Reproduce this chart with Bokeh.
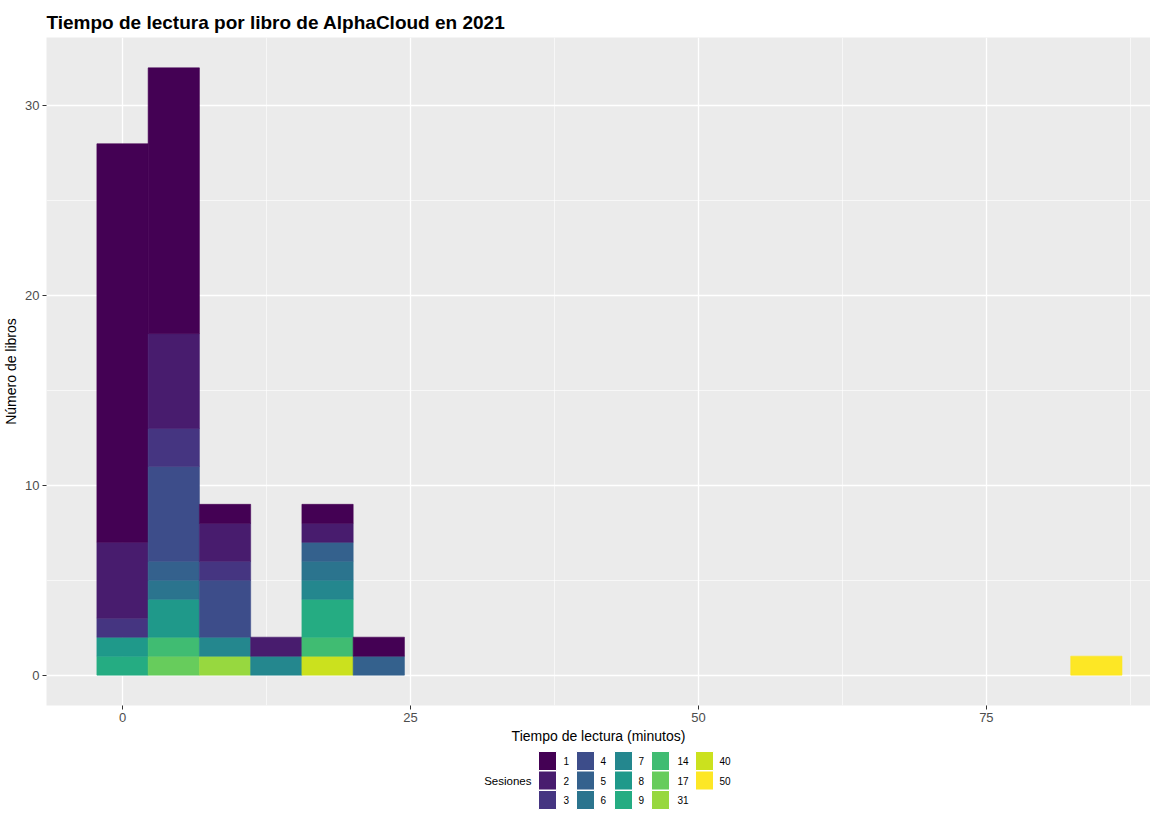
from bokeh.plotting import figure
from bokeh.models import Range1d, FixedTicker, ColumnDataSource
from bokeh.layouts import column
from bokeh.core.properties import value
from bokeh.embed import file_html
from bokeh.resources import INLINE

# ---------------- data ----------------
title_text = "Tiempo de lectura por libro de AlphaCloud en 2021"
x_label = "Tiempo de lectura (minutos)"
y_label = "Número de libros"
legend_title = "Sesiones"

bin_width = 4.45
bin_center = [0.0, 4.45, 8.9, 13.35, 17.8, 22.25, 84.55]

sesiones = ["1", "2", "3", "4", "5", "6", "7", "8", "9", "14", "17", "31", "40", "50"]
counts = {
    "1":  [21, 14, 1, 0, 1, 1, 0],
    "2":  [4, 5, 2, 1, 1, 0, 0],
    "3":  [1, 2, 1, 0, 0, 0, 0],
    "4":  [0, 5, 3, 0, 0, 0, 0],
    "5":  [0, 1, 0, 0, 1, 1, 0],
    "6":  [0, 1, 0, 0, 1, 0, 0],
    "7":  [0, 0, 1, 1, 1, 0, 0],
    "8":  [1, 2, 0, 0, 0, 0, 0],
    "9":  [1, 0, 0, 0, 2, 0, 0],
    "14": [0, 1, 0, 0, 1, 0, 0],
    "17": [0, 1, 0, 0, 0, 0, 0],
    "31": [0, 0, 1, 0, 0, 0, 0],
    "40": [0, 0, 0, 0, 1, 0, 0],
    "50": [0, 0, 0, 0, 0, 0, 1],
}

x_ticks = [0, 25, 50, 75]
x_minor = [12.5, 37.5, 62.5, 87.5]
y_ticks = [0, 10, 20, 30]
y_minor = [5, 15, 25]

palette = ["#440154", "#481C6E", "#453581", "#3D4D8A", "#34618D", "#2B748E",
           "#24878E", "#1F998A", "#25AC82", "#40BC72", "#67CC5C", "#97D83F",
           "#CBE11E", "#FDE725"]
color_of = dict(zip(sesiones, palette))

FONT = "Liberation Sans"
LEFT = 44
FRAME_W = 1104

# ---------------- main plot ----------------
p = figure(frame_width=FRAME_W, frame_height=668, output_backend="svg",
           toolbar_location=None,
           x_range=Range1d(-6.6, 89.25), y_range=Range1d(-1.6, 33.6),
           min_border_left=LEFT, min_border_right=0, min_border_top=37,
           min_border_bottom=36)
p.background_fill_color = "#EBEBEB"
p.border_fill_color = "white"
p.outline_line_color = None

# stacked histogram segments (level "1" on top, highest level at the bottom)
seg = {"x": [], "bottom": [], "top": [], "color": []}
for b, xc in enumerate(bin_center):
    base = 0
    for s in reversed(sesiones):
        n = counts[s][b]
        if n > 0:
            seg["x"].append(xc)
            seg["bottom"].append(base)
            seg["top"].append(base + n)
            seg["color"].append(color_of[s])
            base += n
src = ColumnDataSource(seg)
p.vbar(x="x", bottom="bottom", top="top", width=bin_width, fill_color="color",
       line_color="color", line_width=0.6, source=src)

p.xaxis.ticker = FixedTicker(ticks=x_ticks, minor_ticks=x_minor)
p.yaxis.ticker = FixedTicker(ticks=y_ticks, minor_ticks=y_minor)

for g in (p.xgrid, p.ygrid):
    g.grid_line_color = "white"
    g.grid_line_width = 1.3
    g.minor_grid_line_color = "white"
    g.minor_grid_line_width = 0.6

for ax in (p.xaxis, p.yaxis):
    ax.axis_line_color = None
    ax.major_tick_line_color = "#333333"
    ax.major_tick_in = 0
    ax.major_tick_out = 4
    ax.minor_tick_line_color = None
    ax.major_label_text_color = "#4D4D4D"
    ax.major_label_text_font = FONT
    ax.major_label_text_font_size = "13px"
    ax.major_label_standoff = 3
    ax.axis_label_text_font = FONT
    ax.axis_label_text_font_size = "14px"
    ax.axis_label_text_font_style = "normal"
    ax.axis_label_text_color = "black"
    ax.axis_label_standoff = 3

p.xaxis.axis_label = x_label
p.yaxis.axis_label = y_label

p.title.text = title_text
p.title.text_font = FONT
p.title.text_font_size = "19px"
p.title.text_font_style = "bold"
p.title.text_color = "black"
p.title.align = "left"

# ---------------- legend (separate strip, same frame alignment) ----------------
LEG_H = 64
leg = figure(frame_width=FRAME_W, frame_height=LEG_H, output_backend="svg",
             toolbar_location=None,
             x_range=Range1d(LEFT, LEFT + FRAME_W), y_range=Range1d(LEG_H, 0),
             x_axis_location=None, y_axis_location=None,
             min_border_left=LEFT, min_border_right=0, min_border_top=0,
             min_border_bottom=0)
leg.title.visible = False
leg.outline_line_color = None
leg.xgrid.visible = False
leg.ygrid.visible = False
leg.background_fill_color = "white"
leg.border_fill_color = "white"

col_key_left = [536, 574, 612, 649, 693]
col_label_x = [561, 598, 636, 675, 717]
row_top = [5, 24.5, 44]
key_w, key_h = 18, 19

kx, ky, kc, lx, ly, lt = [], [], [], [], [], []
for i, s in enumerate(sesiones):
    c, r = divmod(i, 3)
    kx.append(col_key_left[c] + key_w / 2)
    ky.append(row_top[r] + key_h / 2)
    kc.append(color_of[s])
    lx.append(col_label_x[c])
    ly.append(row_top[r] + key_h / 2)
    lt.append(s)

leg.rect(x=kx, y=ky, width=key_w, height=key_h, fill_color=kc, line_color="white",
         line_width=1)
leg.text(x=lx, y=ly, text=lt, text_font=value(FONT), text_font_size="10px",
         text_baseline="middle", text_align="left", text_color="black")
leg.text(x=[529], y=[row_top[1] + key_h / 2], text=[legend_title],
         text_font=value(FONT), text_font_size="11.5px",
         text_baseline="middle", text_align="right", text_color="black")

layout = column(p, leg)
open("out.html", "w").write(file_html(layout, INLINE))
